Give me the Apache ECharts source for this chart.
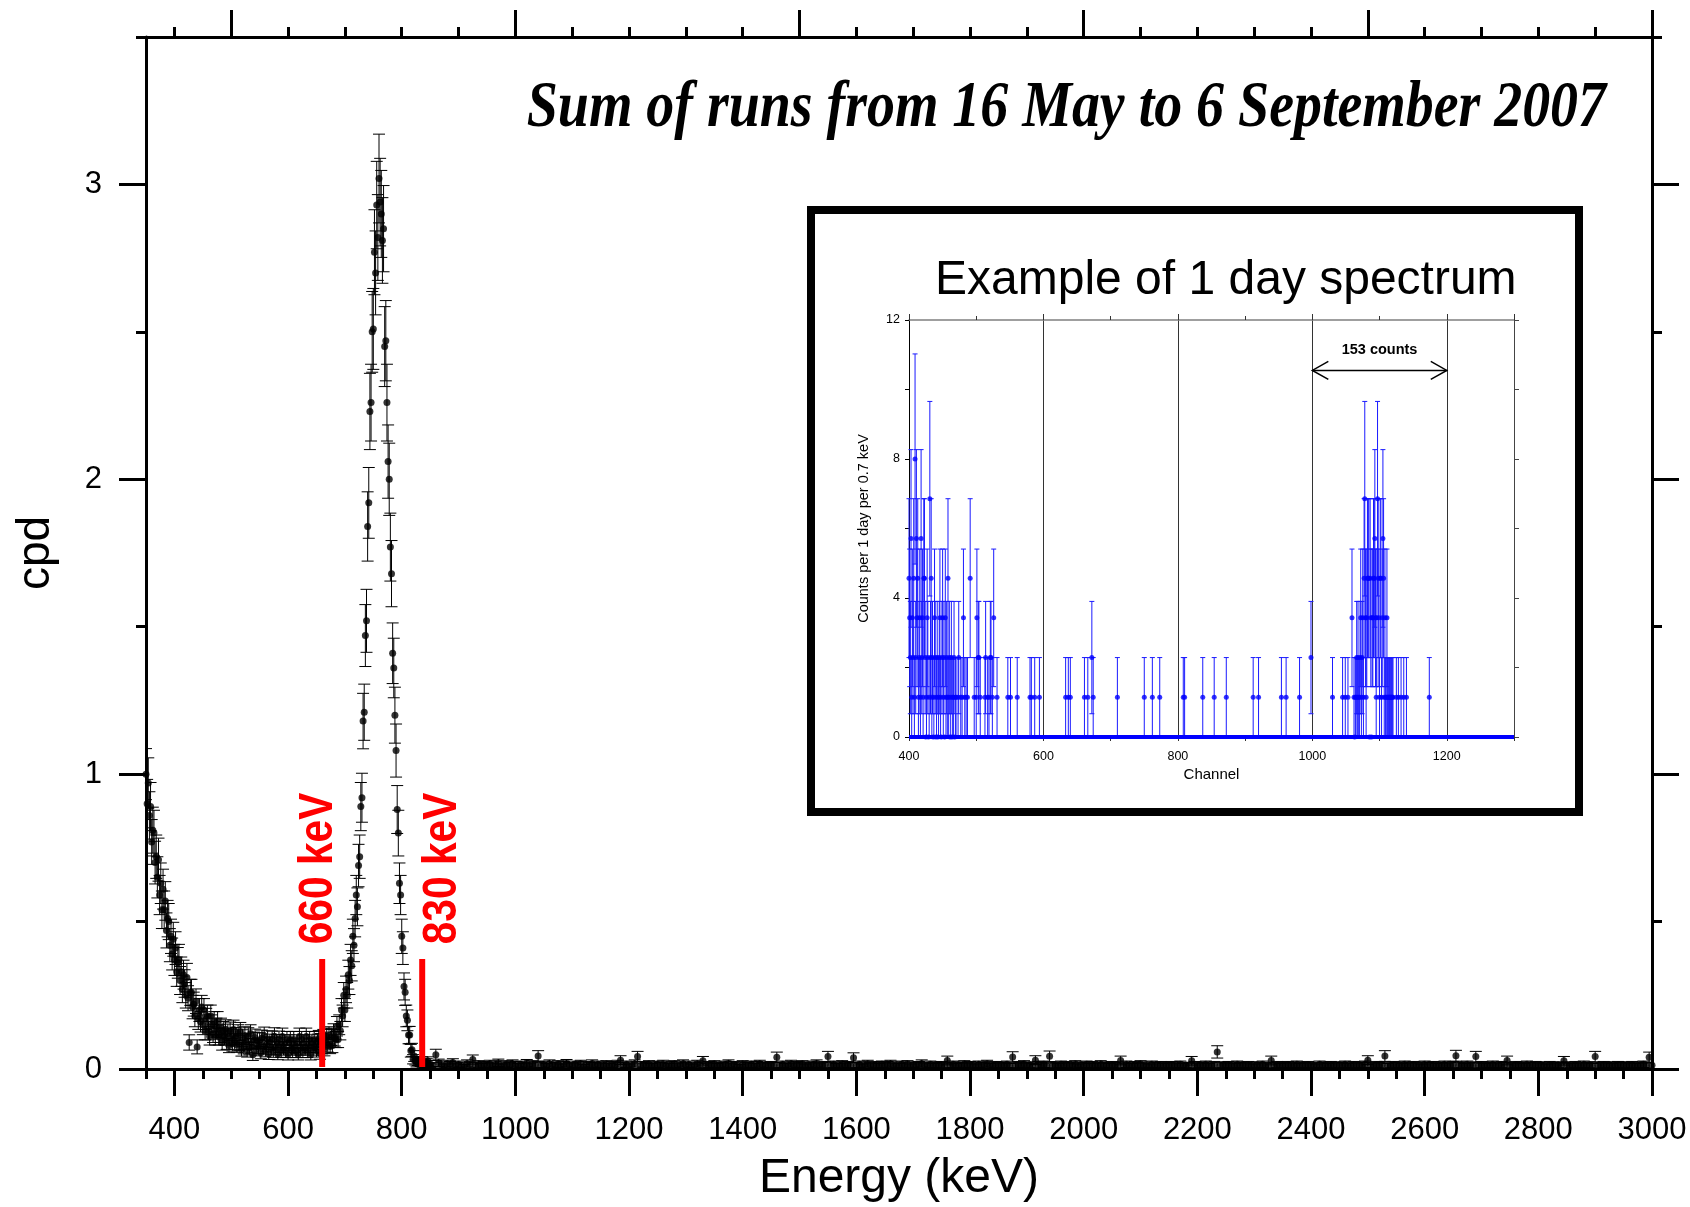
<!DOCTYPE html>
<html><head><meta charset="utf-8">
<script src="https://cdn.jsdelivr.net/npm/echarts@6.0.0/dist/echarts.min.js"></script>
<style>html,body{margin:0;padding:0;background:#fff}#c{width:1690px;height:1207px}</style>
</head><body><div id="c"></div>
<script>
// ---------------- MAIN SPECTRUM (cpd vs keV) ----------------
// bins 350..848 keV, 2 keV wide
const lowE0 = 350, lowStep = 2;
const lowCpd = [
1.00,0.90,0.97,0.86,0.89,0.77,0.81,0.80,0.70,0.72,
0.65,0.71,0.59,0.63,0.54,0.61,0.54,0.57,0.47,0.51,
0.50,0.42,0.45,0.39,0.44,0.37,0.41,0.33,0.36,0.37,
0.30,0.33,0.27,0.32,0.29,0.25,0.31,0.24,0.09,0.26,
0.26,0.21,0.22,0.18,0.23,0.075,0.17,0.20,0.16,0.21,
0.15,0.20,0.13,0.17,0.18,0.13,0.11,0.18,0.15,0.12,
0.16,0.11,0.14,0.16,0.11,0.12,0.14,0.09,0.13,0.11,
0.135,0.093,0.122,0.08,0.128,0.107,0.086,0.134,0.093,0.112,
0.081,0.12,0.089,0.127,0.066,0.105,0.075,0.114,0.093,0.062,
0.111,0.071,0.12,0.079,0.048,0.098,0.107,0.067,0.096,0.076,
0.096,0.055,0.104,0.074,0.113,0.063,0.083,0.102,0.052,0.092,
0.071,0.101,0.061,0.111,0.071,0.091,0.051,0.101,0.081,0.061,
0.11,0.07,0.09,0.06,0.10,0.05,0.09,0.10,0.07,0.06,
0.10,0.08,0.06,0.09,0.05,0.11,0.07,0.10,0.06,0.09,
0.07,0.11,0.06,0.08,0.10,0.05,0.09,0.07,0.10,0.08,
0.062,0.092,0.103,0.053,0.094,0.075,0.106,0.067,0.098,0.11,
0.082,0.114,0.076,0.108,0.08,0.123,0.106,0.10,0.145,0.10,
0.15,0.13,0.20,0.18,0.25,0.20,0.27,0.25,0.32,0.30,
0.37,0.35,0.45,0.42,0.51,0.59,0.55,0.69,0.72,0.89,
0.92,1.18,1.21,1.47,1.52,1.84,1.92,2.23,2.26,2.50,
2.51,2.77,2.70,2.93,2.82,3.02,2.94,2.90,2.81,2.85,
2.45,2.47,2.26,2.06,2.00,1.77,1.68,1.41,1.36,1.20,
1.08,0.88,0.80,0.63,0.59,0.45,0.41,0.28,0.26,0.18,
0.165,0.115,0.115,0.062,0.065,0.033,0.044,0.028,0.019,0.026,
0.025,0.010,0.021,0.027,0.010,0.018,0.007,0.022,0.027,0.011
];
// bins 850..3000 keV, 5 keV wide, values in 0.001 cpd
const highE0 = 850, highStep = 5;
const highMilliCpd = [
17,12,48,21,14,9,18,15,22,11,16,13,8,19,14,32,12,17,10,15,
13,18,11,16,21,9,14,17,12,19,15,10,16,13,20,11,17,14,44,12,
16,10,19,14,12,17,9,15,20,13,11,16,14,18,8,15,12,19,13,16,
11,14,17,10,15,13,18,30,12,16,9,14,19,42,11,15,13,17,10,14,
16,12,18,13,10,15,17,11,14,19,12,16,9,13,18,14,28,11,15,13,
17,10,14,12,16,19,11,15,13,8,17,14,12,16,10,15,18,12,14,11,
15,13,40,12,16,10,14,18,11,15,13,17,9,14,12,16,19,11,13,15,
42,12,16,10,14,17,11,15,13,38,12,16,9,14,18,11,13,15,10,16,
12,15,18,11,14,10,16,13,17,9,14,12,15,19,11,13,16,10,14,12,
15,11,29,13,16,10,14,12,17,11,15,13,9,16,12,14,18,10,13,15,
11,14,12,16,10,41,13,15,11,17,12,14,10,30,15,12,16,11,43,13,
14,10,16,12,15,11,13,17,9,14,12,16,10,15,13,11,17,12,14,10,
15,12,14,29,11,16,13,10,15,12,17,11,14,9,16,12,13,15,10,14,
12,15,11,14,16,10,13,12,28,15,11,14,12,16,10,13,15,58,12,14,
11,15,13,10,16,12,14,11,15,13,9,14,12,16,11,13,29,12,15,10,
14,12,15,11,13,16,10,14,12,15,11,13,9,16,12,14,10,15,13,11,
14,12,16,10,13,15,11,14,12,16,30,13,11,15,12,14,44,10,13,15,
12,14,10,16,13,11,15,12,14,9,16,12,13,15,10,14,12,16,11,13,
15,45,12,14,10,16,13,11,42,12,15,10,14,12,16,11,13,15,12,29,
13,11,15,12,14,10,16,12,13,15,11,14,12,9,15,13,11,14,12,28,
14,12,10,15,13,11,16,12,14,10,42,13,11,15,12,14,10,13,15,12,
14,11,13,15,10,12,14,16,11,40,13
];
// statistical error: err^2 = k * value (read from error-bar lengths)
const cpdErrK = 0.0075;

const mainXTicks = [400,600,800,1000,1200,1400,1600,1800,2000,2200,2400,2600,2800,3000];
const mainTopMajor = [500,1000,1500,2000,2500,3000];
const mainTopMinor = [400,500,600,700,800,900,1000,1100,1200,1300,1400,1500,1600,1700,1800,1900,2000,2100,2200,2300,2400,2500,2600,2700,2800,2900,3000];
const mainYTicks = [0,1,2,3];
const mainYMinor = [0.5,1.5,2.5,3.5];

// red window markers
const markerEnergy = [660, 836];
const markerLabels = ['660 keV', '830 keV'];
const markerTopCpd = 0.373;

// ---------------- INSET: 1 day spectrum ----------------
const countToValue = 8 / 7;        // counts -> counts per 1 day per 0.7 keV
const insetRun1Start = 400;
const insetRun1Counts = [
4,3,2,5,1,3,2,4,1,7, 2,5,3,4,1,2,3,1,5,2, 3,1,4,4,2,0,1,3,2,0,
1,6,2,4,1,2,0,1,3,2, 0,1,2,0,1,2,3,1,0,2, 3,1,2,0,3,1,2,1,4,1,
2,0,1,2,0,1,1,2,0,1, 1];
const insetRun2Start = 1062;
const insetRun2Counts = [
1,0,1,1,2,1,2,1,1,2, 3,1,2,3,1,4,6,3,1,3, 4,4,4,0,4,3,0,3,3,4,
4,5,3,1,3,6,4,3,1,4, 4,1,3,5,4,1,3,1,1,3, 1,1,1,1,1,1,1,1,1];
const insetChannels = [473,474,477,479,481,483,485,487,491,497,500,501,503,504,506,513,514,517,519,521,
522,524,526,531,547,551,561,580,582,587,594,633,637,640,661,666,672,674,710,750,
762,773,808,810,837,854,872,912,920,954,961,981,998,1030,1045,1049,1053,1059,1125,1128,
1132,1136,1140,1174];
const insetCounts = [1,2,1,1,3,1,1,1,4,1,1,3,2,2,1,1,2,1,1,2,
2,1,3,1,1,1,1,1,1,1,1,1,1,1,1,1,2,1,1,1,
1,1,1,1,1,1,1,1,1,1,1,1,2,1,1,1,1,3,1,1,
1,1,1,1];
const insetBaseline = [[400, 0], [1300, 0]];   // all remaining channels are 0 counts
const insetXTicks = [400, 600, 800, 1000, 1200];
const insetYTicks = [0, 4, 8, 12];
const arrowChannels = [1000, 1200];
const arrowLevel = 10.55;
const arrowLabel = '153 counts';

// ---------------- build ----------------
const mainPoints = [];
lowCpd.forEach((v, i) => mainPoints.push([lowE0 + i * lowStep, v, Math.sqrt(cpdErrK * v)]));
highMilliCpd.forEach((m, i) => { const v = m / 1000; mainPoints.push([highE0 + i * highStep, v, Math.sqrt(cpdErrK * v)]); });

const insetPoints = [];
function addCount(ch, c) { insetPoints.push([ch, c * countToValue, Math.sqrt(c) * countToValue]); }
insetRun1Counts.forEach((c, i) => addCount(insetRun1Start + i, c));
insetRun2Counts.forEach((c, i) => addCount(insetRun2Start + i, c));
insetChannels.forEach((ch, i) => addCount(ch, insetCounts[i]));

const LS = '"Liberation Sans", Arial, sans-serif';
const plain = v => String(v);

function errBar(half, color, lw) {
  return function (params, api) {
    const x = api.value(0), y = api.value(1), e = api.value(2);
    if (!(e > 0)) return null;
    const t = api.coord([x, y + e]), b = api.coord([x, y - e]);
    const st = { stroke: color, lineWidth: lw };
    return { type: 'group', children: [
      { type: 'line', shape: { x1: t[0], y1: t[1], x2: b[0], y2: b[1] }, style: st },
      { type: 'line', shape: { x1: t[0] - half, y1: t[1], x2: t[0] + half, y2: t[1] }, style: st },
      { type: 'line', shape: { x1: b[0] - half, y1: b[1], x2: b[0] + half, y2: b[1] }, style: st }
    ] };
  };
}

const markerLabelDx = [-4, 20];
const markerLabelCenterCpd = 0.68;

const blackLine = w => ({ color: '#000', width: w });
const line = (c, w) => ({ show: true, onZero: false, lineStyle: { color: c, width: w } });
const off = { show: false };
const noLine = { show: false, onZero: false };

const option = {
  animation: false,
  backgroundColor: '#fff',
  grid: [
    { left: 146, top: 37, right: 38, bottom: 138, containLabel: false, outerBoundsMode: 'none' },
    { left: 909, top: 320, right: 176, bottom: 470, containLabel: false, outerBoundsMode: 'none' }
  ],
  xAxis: [
    { gridIndex: 0, type: 'value', position: 'bottom', min: 350, max: 3000,
      axisLine: line('#000', 3),
      axisTick: { show: true, customValues: mainXTicks, length: 27, lineStyle: blackLine(3) },
      axisLabel: { show: true, customValues: mainXTicks, formatter: plain, fontSize: 31, fontFamily: LS, color: '#000', margin: 46 },
      splitLine: off,
      name: 'Energy (keV)', nameLocation: 'middle', nameGap: 86,
      nameTextStyle: { fontSize: 48, fontFamily: LS, color: '#000' } },
    { gridIndex: 0, type: 'value', position: 'bottom', min: 350, max: 3000, interval: 50,
      axisLine: noLine, axisTick: { show: true, length: 10, lineStyle: blackLine(3) }, axisLabel: off, splitLine: off },
    { gridIndex: 0, type: 'value', position: 'top', min: 350, max: 3000,
      axisLine: line('#000', 3),
      axisTick: { show: true, customValues: mainTopMajor, length: 27, lineStyle: blackLine(3) },
      axisLabel: off, splitLine: off },
    { gridIndex: 0, type: 'value', position: 'top', min: 350, max: 3000,
      axisLine: noLine, axisTick: { show: true, customValues: mainTopMinor, length: 10, lineStyle: blackLine(3) },
      axisLabel: off, splitLine: off },
    // inset
    { gridIndex: 1, type: 'value', position: 'bottom', min: 400, max: 1300, interval: 100,
      axisLine: noLine, axisTick: { show: true, length: 4, lineStyle: { color: '#333', width: 1 } },
      axisLabel: { show: true, customValues: insetXTicks, formatter: plain, fontSize: 12.5, fontFamily: LS, color: '#000', margin: 13 },
      splitLine: off,
      name: 'Channel', nameLocation: 'middle', nameGap: 30,
      nameTextStyle: { fontSize: 15, fontFamily: LS, color: '#000' } },
    { gridIndex: 1, type: 'value', position: 'top', min: 400, max: 1300, interval: 200,
      axisLine: line('#808080', 1.5),
      axisTick: { show: true, length: 6, lineStyle: { color: '#333', width: 1 } },
      axisLabel: off,
      splitLine: { show: true, lineStyle: { color: '#333', width: 1 } } },
    { gridIndex: 1, type: 'value', position: 'top', min: 400, max: 1300, interval: 100,
      axisLine: noLine, axisTick: { show: true, length: 4, lineStyle: { color: '#333', width: 1 } },
      axisLabel: off, splitLine: off }
  ],
  yAxis: [
    { gridIndex: 0, type: 'value', position: 'left', min: 0, max: 3.5,
      axisLine: line('#000', 3),
      axisTick: { show: true, customValues: mainYTicks, length: 27, lineStyle: blackLine(3) },
      axisLabel: { show: true, customValues: mainYTicks, formatter: plain, fontSize: 31, fontFamily: LS, color: '#000', margin: 44 },
      splitLine: off,
      name: 'cpd', nameLocation: 'middle', nameGap: 87, nameRotate: 90,
      nameTextStyle: { fontSize: 46, fontFamily: LS, color: '#000' } },
    { gridIndex: 0, type: 'value', position: 'left', min: 0, max: 3.5,
      axisLine: noLine, axisTick: { show: true, customValues: mainYMinor, length: 10, lineStyle: blackLine(3) },
      axisLabel: off, splitLine: off },
    { gridIndex: 0, type: 'value', position: 'right', min: 0, max: 3.5,
      axisLine: line('#000', 3),
      axisTick: { show: true, customValues: mainYTicks, length: 27, lineStyle: blackLine(3) },
      axisLabel: off, splitLine: off },
    { gridIndex: 0, type: 'value', position: 'right', min: 0, max: 3.5,
      axisLine: noLine, axisTick: { show: true, customValues: mainYMinor, length: 10, lineStyle: blackLine(3) },
      axisLabel: off, splitLine: off },
    // inset
    { gridIndex: 1, type: 'value', position: 'left', min: 0, max: 12, interval: 2,
      axisLine: line('#000', 1),
      axisTick: { show: true, length: 4, lineStyle: { color: '#000', width: 1 } },
      axisLabel: { show: true, customValues: insetYTicks, formatter: plain, fontSize: 12.5, fontFamily: LS, color: '#000', margin: 9 },
      splitLine: off,
      name: 'Counts per 1 day per 0.7 keV', nameLocation: 'middle', nameGap: 38, nameRotate: 90,
      nameTextStyle: { fontSize: 14.5, fontFamily: LS, color: '#000' } },
    { gridIndex: 1, type: 'value', position: 'right', min: 0, max: 12, interval: 2,
      axisLine: line('#444', 1),
      axisTick: { show: true, length: 5, lineStyle: { color: '#444', width: 1 } },
      axisLabel: off, splitLine: off }
  ],
  series: [
    { type: 'custom', xAxisIndex: 0, yAxisIndex: 0, data: mainPoints, encode: { x: 0, y: 1 },
      renderItem: errBar(6, '#000', 1), clip: true, silent: true, z: 2 },
    { type: 'scatter', xAxisIndex: 0, yAxisIndex: 0, data: mainPoints.map(p => [p[0], p[1]]),
      symbolSize: 7, itemStyle: { color: '#000' }, silent: true, z: 3, large: false, progressive: 0 },
    { type: 'custom', xAxisIndex: 0, yAxisIndex: 0, z: 4, silent: true,
      data: markerEnergy.map((e, i) => [e, markerTopCpd, i]), encode: { x: 0, y: 1 },
      renderItem: function (params, api) {
        const e = api.value(0), top = api.value(1), i = api.value(2);
        const p0 = api.coord([e, 0]), p1 = api.coord([e, top]);
        const pc = api.coord([e, markerLabelCenterCpd]);
        return { type: 'group', children: [
          { type: 'line', shape: { x1: p0[0], y1: p0[1] - 2, x2: p1[0], y2: p1[1] }, style: { stroke: '#ff0000', lineWidth: 6 } },
          { type: 'text', x: p0[0] + markerLabelDx[i], y: pc[1], rotation: Math.PI / 2, scaleX: 0.83,
            style: { text: markerLabels[i], font: 'bold 49px "Liberation Sans"', fill: '#ff0000',
                     align: 'center', verticalAlign: 'middle', textAlign: 'center', textVerticalAlign: 'middle' } }
        ] };
      } },
    { type: 'line', xAxisIndex: 4, yAxisIndex: 4, data: insetBaseline, symbol: 'none',
      lineStyle: { color: '#0000ff', width: 4 }, silent: true, z: 3 },
    { type: 'custom', xAxisIndex: 4, yAxisIndex: 4, data: insetPoints, encode: { x: 0, y: 1 },
      renderItem: errBar(2.5, '#1a1aff', 1), silent: true, z: 3 },
    { type: 'scatter', xAxisIndex: 4, yAxisIndex: 4, data: insetPoints.map(p => [p[0], p[1]]),
      symbolSize: 5, itemStyle: { color: '#0000ff' }, silent: true, z: 4 },
    { type: 'custom', xAxisIndex: 4, yAxisIndex: 4, silent: true, z: 5,
      data: [[arrowChannels[0], arrowLevel, arrowChannels[1]]], encode: { x: 0, y: 1 },
      renderItem: function (params, api) {
        const a = api.coord([api.value(0), api.value(1)]);
        const b = api.coord([api.value(2), api.value(1)]);
        const st = { stroke: '#000', lineWidth: 1.5 };
        return { type: 'group', children: [
          { type: 'line', shape: { x1: a[0], y1: a[1], x2: b[0], y2: b[1] }, style: st },
          { type: 'polyline', shape: { points: [[a[0] + 16, a[1] - 9], [a[0], a[1]], [a[0] + 16, a[1] + 9]] }, style: Object.assign({ fill: null }, st) },
          { type: 'polyline', shape: { points: [[b[0] - 16, b[1] - 9], [b[0], b[1]], [b[0] - 16, b[1] + 9]] }, style: Object.assign({ fill: null }, st) },
          { type: 'text', x: (a[0] + b[0]) / 2, y: a[1] - 20,
            style: { text: arrowLabel, font: 'bold 14.5px "Liberation Sans"', fill: '#000',
                     align: 'center', verticalAlign: 'middle', textAlign: 'center', textVerticalAlign: 'middle' } }
        ] };
      } }
  ],
  graphic: [
    { type: 'text', x: 1606, y: 109, scaleX: 0.86, z: 10,
      style: { text: 'Sum of runs from 16 May to 6 September 2007', font: 'italic bold 65px "Liberation Serif"',
               fill: '#000', align: 'right', verticalAlign: 'middle', textAlign: 'right', textVerticalAlign: 'middle' } },
    { type: 'rect', z: 1, shape: { x: 811, y: 210, width: 768, height: 602 },
      style: { fill: null, stroke: '#000', lineWidth: 8 } },
    { type: 'text', x: 935, y: 281, z: 10,
      style: { text: 'Example of 1 day spectrum', font: '48px "Liberation Sans"', fill: '#000',
               align: 'left', verticalAlign: 'middle', textAlign: 'left', textVerticalAlign: 'middle' } }
  ]
};

const chart = echarts.init(document.getElementById('c'), null, { renderer: 'canvas', width: 1690, height: 1207 });
chart.setOption(option);
</script></body></html>
